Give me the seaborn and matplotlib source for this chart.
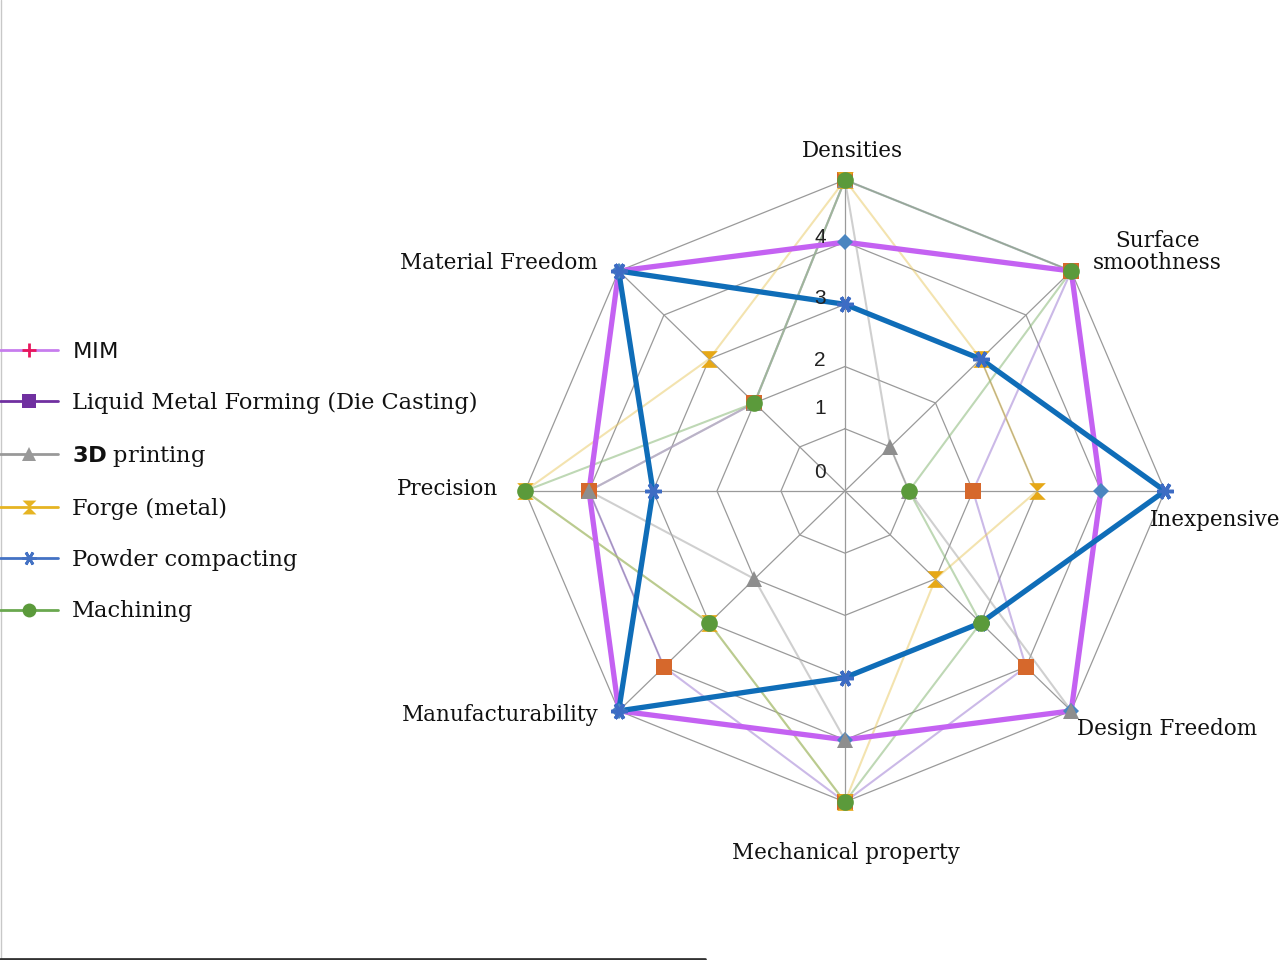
import numpy as np
import pandas as pd
import matplotlib
matplotlib.use("Agg")
import matplotlib.pyplot as plt
import seaborn as sns
from matplotlib.lines import Line2D

# Radar chart: comparison of metal forming processes

sns.set_theme(style="white")
plt.rcParams['font.family'] = ['DejaVu Serif']
plt.rcParams['mathtext.fontset'] = 'dejavusans'
plt.rcParams['text.color'] = '#111111'

categories = ["Densities", "Surface\nsmoothness", "Inexpensive", "Design Freedom",
              "Mechanical property", "Manufacturability", "Precision", "Material Freedom"]

mim = [4, 5, 4, 5, 4, 5, 4, 5]
liquid_metal = [5, 5, 2, 4, 5, 4, 4, 2]
printing_3d = [5, 1, 1, 5, 4, 2, 4, 2]
forge = [5, 3, 3, 2, 5, 3, 5, 3]
powder = [3, 3, 5, 3, 3, 5, 3, 5]
machining = [5, 5, 1, 3, 5, 3, 5, 2]

series_names = ["MIM", "Liquid Metal Forming (Die Casting)", "3D printing",
                "Forge (metal)", "Powder compacting", "Machining"]
legend_labels = [r"$\mathsf{MIM}$", "Liquid Metal Forming (Die Casting)",
                 r"$\mathbf{3D}$ printing", "Forge (metal)", "Powder compacting", "Machining"]

radial_ticks = [0, 1, 2, 3, 4]
radial_tick_pos = [0.3, 1.33, 2.09, 3.1, 4.08]

hourglass = [(-1, 1), (1, 1), (-1, -1), (1, -1), (-1, 1)]

# style per series: line colour, width, alpha, marker, marker colour, marker size, legend colour
styles = {
    "MIM": dict(lc="#c462f2", lw=3.8, alpha=1.0, m="D", mc="#4a86c0", ms=8,
                leg_lc="#c77dee", leg_m="+", leg_mc="#e8175d"),
    "Liquid Metal Forming (Die Casting)": dict(lc="#a98bd8", lw=1.5, alpha=0.6, m="s", mc="#d6682c", ms=12,
                                               leg_lc="#7030a0", leg_m="s", leg_mc="#7030a0"),
    "3D printing": dict(lc="#b0b0b0", lw=1.5, alpha=0.6, m="^", mc="#8e8e8e", ms=12,
                        leg_lc="#999999", leg_m="^", leg_mc="#999999"),
    "Forge (metal)": dict(lc="#e8c860", lw=1.5, alpha=0.5, m=hourglass, mc="#e6a817", ms=12,
                          leg_lc="#e6b422", leg_m=hourglass, leg_mc="#e6b422"),
    "Powder compacting": dict(lc="#0f6db8", lw=3.8, alpha=1.0, m=(6, 2, 90), mc="#3d6cc4", ms=12,
                              leg_lc="#4472c4", leg_m=(6, 2, 90), leg_mc="#4472c4"),
    "Machining": dict(lc="#8ab878", lw=1.5, alpha=0.55, m="o", mc="#5b9a3b", ms=12,
                      leg_lc="#6aa84f", leg_m="o", leg_mc="#5b9a3b"),
}

values = {
    "MIM": mim,
    "Liquid Metal Forming (Die Casting)": liquid_metal,
    "3D printing": printing_3d,
    "Forge (metal)": forge,
    "Powder compacting": powder,
    "Machining": machining,
}

n = len(categories)
angles = np.linspace(0, 2 * np.pi, n, endpoint=False)
angles_closed = np.append(angles, 2 * np.pi)

fig = plt.figure(figsize=(12.82, 9.6), dpi=100)
ax = fig.add_axes([0.4095, 0.1646, 0.4992, 0.648], projection="polar")
ax.set_theta_zero_location("N")
ax.set_theta_direction(-1)
ax.set_aspect("auto")
ax.set_ylim(0, 5)
ax.axis("off")

# octagon grid
for r in range(1, 6):
    ax.plot(angles_closed, [r] * (n + 1), color="#9a9a9a", lw=0.9, zorder=1, clip_on=False)
for a in angles:
    ax.plot([a, a], [0, 5], color="#9a9a9a", lw=0.9, zorder=1, clip_on=False)

# lines: faded ones first, bold ones after
draw_order = ["Liquid Metal Forming (Die Casting)", "3D printing", "Forge (metal)", "Machining",
              "MIM", "Powder compacting"]
for name in draw_order:
    st = styles[name]
    df = pd.DataFrame({"theta": angles_closed, "r": values[name] + values[name][:1]})
    z = 3 if st["lw"] > 2 else 2
    sns.lineplot(data=df, x="theta", y="r", ax=ax, sort=False, estimator=None,
                 color=st["lc"], lw=st["lw"], alpha=st["alpha"], zorder=z, clip_on=False)

# markers on top of all lines
marker_order = ["MIM", "Liquid Metal Forming (Die Casting)", "Forge (metal)", "Powder compacting",
                "3D printing", "Machining"]
for i, name in enumerate(marker_order):
    st = styles[name]
    mew = 2.5 if name == "Powder compacting" else 0
    ax.plot(angles, values[name], linestyle="none", marker=st["m"], markersize=st["ms"],
            color=st["mc"], markeredgecolor=st["mc"], markeredgewidth=mew,
            zorder=5 + i, clip_on=False)

# radial tick labels
for t, p in zip(radial_ticks, radial_tick_pos):
    ax.annotate(str(t), xy=(0, p), xytext=(-25, 0), textcoords="offset pixels",
                ha="center", va="center", fontsize=15, family="Liberation Sans",
                color="#222222", zorder=20)

# category labels
label_offsets = [(7, 29), (86, 19), (-15, -29), (6, -18), (1, -51), (-20, -4), (-27, 2), (-21, 8)]
label_ha = ["center", "center", "left", "left", "center", "right", "right", "right"]
for a, cat, off, ha in zip(angles, categories, label_offsets, label_ha):
    ax.annotate(cat, xy=(a, 5), xytext=off, textcoords="offset pixels",
                ha=ha, va="center", fontsize=15.5, color="#111111",
                multialignment="center", linespacing=1.05, annotation_clip=False)

# legend
handles = []
for name in series_names:
    st = styles[name]
    mew = 2 if st["leg_m"] in ("+", (6, 2, 90)) else 0
    handles.append(Line2D([0], [0], color=st["leg_lc"], lw=2, marker=st["leg_m"],
                          markersize=10, markerfacecolor=st["leg_mc"],
                          markeredgecolor=st["leg_mc"], markeredgewidth=mew))
leg = fig.legend(handles, legend_labels, loc="upper left", bbox_to_anchor=(0.0, 1 - 341 / 960),
                 frameon=False, fontsize=16.2, handlelength=2.6, handletextpad=0.6,
                 labelspacing=1.3, borderpad=0, borderaxespad=0)
for txt in leg.get_texts():
    txt.set_color("#111111")

# thin border left and bottom
fig.add_artist(Line2D([0.001, 0.001], [0, 1], transform=fig.transFigure, color="#c8c8c8", lw=1))
fig.add_artist(Line2D([0, 0.55], [0.001, 0.001], transform=fig.transFigure, color="#333333", lw=2))

fig.savefig("out.png", dpi=100)
